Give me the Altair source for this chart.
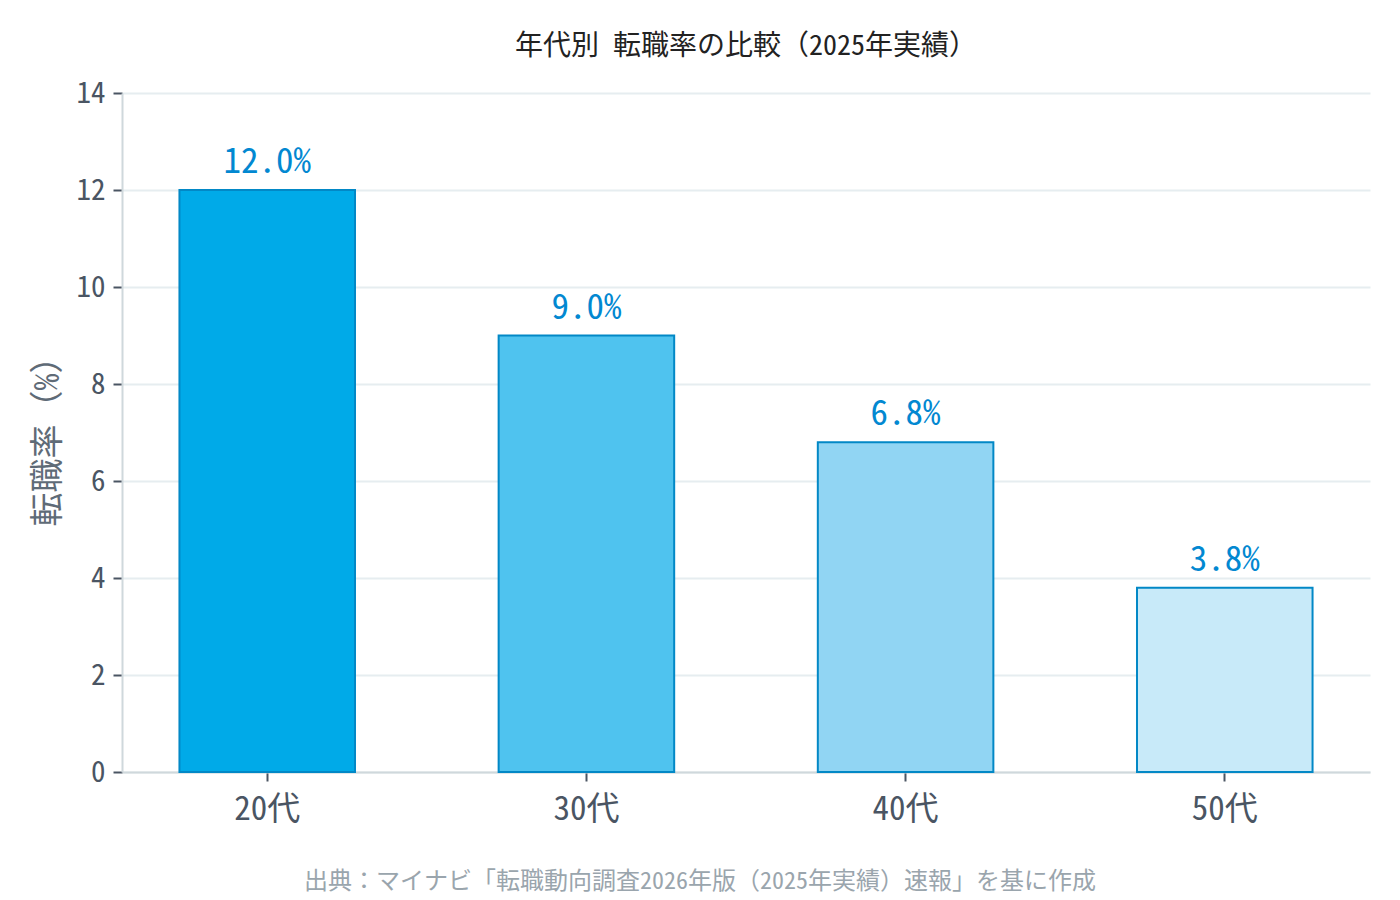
import altair as alt
import pandas as pd

FONT = "Noto Sans Mono CJK JP"

ages = ["20代", "30代", "40代", "50代"]
rates = [12.0, 9.0, 6.8, 3.8]
labels = ["12.0%", "9.0%", "6.8%", "3.8%"]
bar_colors = ["#00aae8", "#4fc3ef", "#91d5f3", "#c8eaf9"]

title_text = "年代別 転職率の比較（2025年実績）"
y_title = "転職率（%）"
source_text = "出典：マイナビ「転職動向調査2026年版（2025年実績）速報」を基に作成"

df = pd.DataFrame({"age": ages, "rate": rates, "label": labels})

x_enc = alt.X(
    "age:N",
    sort=ages,
    title=None,
    scale=alt.Scale(paddingInner=0.45, paddingOuter=0.18),
    axis=alt.Axis(
        labelAngle=0,
        labelFont=FONT,
        labelFontSize=33,
        labelColor="#4a5563",
        labelPadding=12,
        tickSize=9,
        tickWidth=2,
        tickColor="#4a5563",
        domainColor="#cfd8dc",
        domainWidth=2,
    ),
)
y_enc = alt.Y(
    "rate:Q",
    title=y_title,
    scale=alt.Scale(domain=[0, 14]),
    axis=alt.Axis(
        values=[0, 2, 4, 6, 8, 10, 12, 14],
        labelFont=FONT,
        labelFontSize=29,
        labelColor="#4a5563",
        labelPadding=8,
        tickSize=9,
        tickColor="#4a5563",
        tickWidth=2,
        domainColor="#cfd8dc",
        domainWidth=2,
        gridColor="#e6edf0",
        gridWidth=2,
        titleFont=FONT,
        titleFontSize=34,
        titleFontWeight="normal",
        titleColor="#5f6b77",
        titlePadding=10,
    ),
)

bars = (
    alt.Chart(df)
    .mark_bar(stroke="#0288c6", strokeWidth=2)
    .encode(
        x=x_enc,
        y=y_enc,
        color=alt.Color("age:N", scale=alt.Scale(domain=ages, range=bar_colors), legend=None),
    )
)

text = (
    alt.Chart(df)
    .mark_text(dy=-10, baseline="bottom", font=FONT, fontSize=35, color="#0288d1")
    .encode(x=alt.X("age:N", sort=ages), y="rate:Q", text="label:N")
)

source = (
    alt.Chart(pd.DataFrame({"t": [source_text]}))
    .mark_text(font=FONT, fontSize=24, color="#9aa5ad", baseline="middle")
    .encode(x=alt.value(578), y=alt.value(789), text="t:N")
)

chart = (
    alt.layer(bars, text, source)
    .properties(
        width=1248,
        height=679,
        padding={"left": 114, "top": 85, "right": 22, "bottom": 127},
        autosize=alt.AutoSizeParams(type="none"),
        title=alt.Title(
            title_text, font=FONT, fontSize=28, fontWeight="normal", color="#222222", offset=18
        ),
    )
    .configure_view(stroke=None)
)

chart.save("out.html", embed_options={"renderer": "svg", "actions": False})
